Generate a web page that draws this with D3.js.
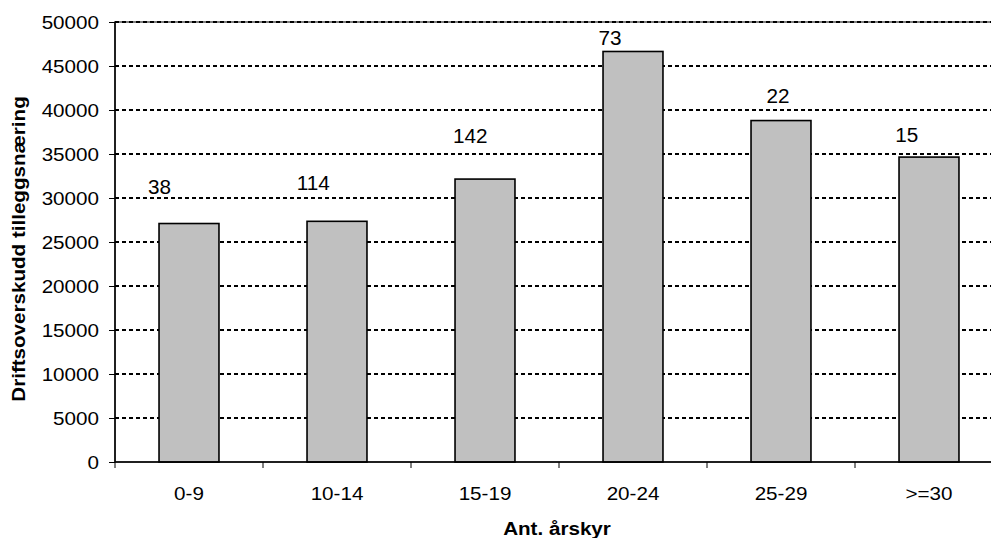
<!DOCTYPE html>
<html>
<head>
<meta charset="utf-8">
<script src="https://cdn.jsdelivr.net/npm/d3@7"></script>
<style>
  html, body { margin: 0; padding: 0; background: #fff; }
  svg { display: block; }
  text { font-family: "Liberation Sans", Arial, sans-serif; fill: #000; }
</style>
</head>
<body>
<svg id="chart" width="991" height="538"></svg>
<script>
// ---- data ----
const categories = ["0-9", "10-14", "15-19", "20-24", "25-29", ">=30"];
const values = [27100, 27350, 32150, 46650, 38800, 34650];
const labels = ["38", "114", "142", "73", "22", "15"];
const labelValues = [31350, 31750, 37100, 48250, 41600, 37200];
const labelShift = [-0.20, -0.16, -0.10, -0.155, -0.02, -0.15];
const yTicks = [0, 5000, 10000, 15000, 20000, 25000, 30000, 35000, 40000, 45000, 50000];
const yTitle = "Driftsoverskudd tilleggsnæring";
const xTitle = "Ant. årskyr";

// ---- layout ----
const svg = d3.select("#chart");
const pLeft = 115, pRight = 1003, pTop = 22, pBottom = 462;
const sx = 1.11; // horizontal text stretch

const x = d3.scaleBand().domain(categories).range([pLeft, pRight])
  .paddingInner(0.595).paddingOuter(0.2975);
const y = d3.scaleLinear().domain([0, 50000]).range([pBottom, pTop]);
const step = x.step();

// plot border (grey)
svg.append("rect")
  .attr("x", pLeft).attr("y", pTop)
  .attr("width", pRight - pLeft).attr("height", pBottom - pTop)
  .attr("fill", "none").attr("stroke", "#808080").attr("stroke-width", 2);

// gridlines
svg.append("g").selectAll("line")
  .data(yTicks.filter(d => d > 0))
  .join("line")
  .attr("x1", pLeft).attr("x2", pRight)
  .attr("y1", d => y(d)).attr("y2", d => y(d))
  .attr("stroke", "#000").attr("stroke-width", 2)
  .attr("stroke-dasharray", "4,3");

// bars
svg.append("g").selectAll("rect")
  .data(categories)
  .join("rect")
  .attr("x", d => x(d))
  .attr("y", (d, i) => y(values[i]))
  .attr("width", x.bandwidth())
  .attr("height", (d, i) => y(0) - y(values[i]))
  .attr("fill", "#c0c0c0")
  .attr("stroke", "#000").attr("stroke-width", 1.6);

// y axis
const yAxis = d3.axisLeft(y).tickValues(yTicks).tickSize(6).tickPadding(9).tickFormat(d3.format("d"));
const gy = svg.append("g").attr("transform", `translate(${pLeft},0)`).call(yAxis);
gy.select(".domain").attr("stroke", "#000").attr("stroke-width", 1.5).attr("d", `M0,${pTop}V${pBottom}`);
gy.selectAll(".tick line").attr("stroke", "#000").attr("stroke-width", 1);
gy.selectAll(".tick text")
  .attr("x", null).attr("dy", null)
  .attr("transform", `translate(-16,6.7) scale(${sx},1)`)
  .style("font-size", "18.6px").attr("fill", "#000");

// x axis
const gx = svg.append("g").attr("transform", `translate(0,${pBottom})`);
gx.append("line").attr("x1", pLeft).attr("x2", pRight).attr("y1", 0).attr("y2", 0)
  .attr("stroke", "#000").attr("stroke-width", 1.5);
gx.selectAll(".xt").data(categories).join("line")
  .attr("x1", d => x(d) - step * x.paddingInner() / 2)
  .attr("x2", d => x(d) - step * x.paddingInner() / 2)
  .attr("y1", 0).attr("y2", 6)
  .attr("stroke", "#000").attr("stroke-width", 1);
gx.selectAll(".xl").data(categories).join("text")
  .attr("transform", d => `translate(${x(d) + x.bandwidth() / 2},38) scale(${sx},1)`)
  .attr("text-anchor", "middle")
  .style("font-size", "18.6px")
  .text(d => d);

// data labels
svg.append("g").selectAll("text")
  .data(categories)
  .join("text")
  .attr("x", (d, i) => x(d) + x.bandwidth() / 2 + labelShift[i] * step)
  .attr("y", (d, i) => y(labelValues[i]) + 7.5)
  .attr("text-anchor", "middle")
  .style("font-size", "20.7px")
  .text((d, i) => labels[i]);

// titles
svg.append("text")
  .attr("transform", `translate(557,535) scale(${sx},1)`)
  .attr("text-anchor", "middle")
  .style("font-size", "18.6px").style("font-weight", "bold")
  .text(xTitle);

svg.append("text")
  .attr("transform", `translate(25,249) rotate(-90) scale(1.12,1)`)
  .attr("text-anchor", "middle")
  .style("font-size", "18.4px").style("font-weight", "bold")
  .text(yTitle);
</script>
</body>
</html>
